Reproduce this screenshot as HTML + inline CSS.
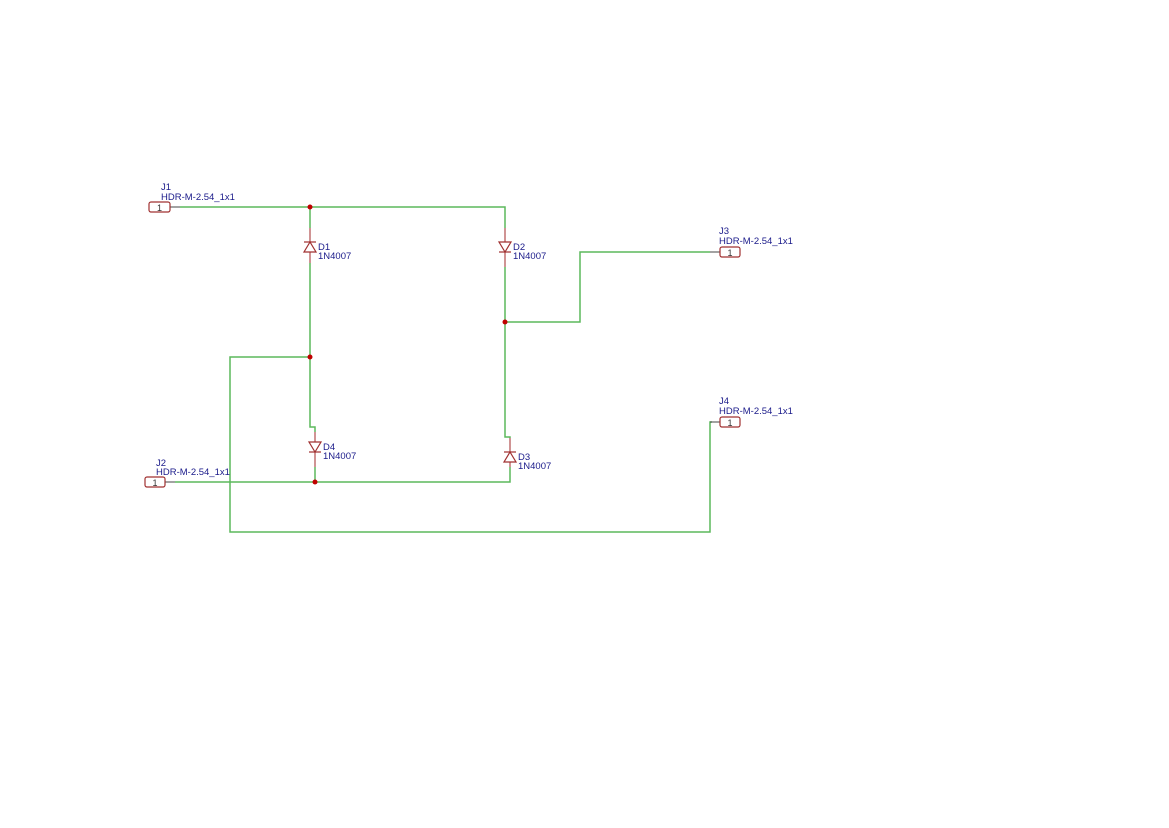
<!DOCTYPE html>
<html><head><style>html,body{margin:0;background:#fff}svg{display:block}</style></head>
<body>
<svg width="1169" height="828" viewBox="0 0 1169 828" xmlns="http://www.w3.org/2000/svg" font-family="Liberation Sans, sans-serif">
<g fill="none" stroke="#5cb85c" stroke-width="1.5">
<polyline points="180,207 505,207 505,228"/>
<polyline points="310,207 310,228"/>
<polyline points="310,263 310,427 315,427 315,432"/>
<polyline points="315,467 315,482"/>
<polyline points="175,482 510,482 510,467"/>
<polyline points="505,267 505,437 510,437 510,438"/>
<polyline points="505,322 580,322 580,252 710,252"/>
<polyline points="310,357 230,357 230,532 710,532 710,422 712,422"/>
</g>
<g stroke="#444" stroke-width="1">
<line x1="170" y1="207" x2="180" y2="207"/>
<line x1="165" y1="482" x2="175" y2="482"/>
<line x1="710" y1="252" x2="720" y2="252"/>
<line x1="710" y1="422" x2="720" y2="422"/>
</g>
<g fill="none" stroke="#c07070" stroke-width="1.5">
<line x1="310" y1="228" x2="310" y2="263"/>
<line x1="505" y1="228" x2="505" y2="267"/>
<line x1="315" y1="432" x2="315" y2="467"/>
<line x1="510" y1="438" x2="510" y2="467"/>
</g>
<g fill="#fff" stroke="#a03030" stroke-width="1.2">
<polygon points="304,252 316,252 310,242"/><line x1="304" y1="242" x2="316" y2="242"/>
<polygon points="499,242 511,242 505,252"/><line x1="499" y1="252" x2="511" y2="252"/>
<polygon points="309,442 321,442 315,452"/><line x1="309" y1="452" x2="321" y2="452"/>
<polygon points="504,462 516,462 510,452"/><line x1="504" y1="452" x2="516" y2="452"/>
<rect x="149" y="202" width="21" height="10" rx="2"/>
<rect x="145" y="477" width="20" height="10" rx="2"/>
<rect x="720" y="247" width="20" height="10" rx="2"/>
<rect x="720" y="417" width="20" height="10" rx="2"/>
</g>
<g fill="#c00000">
<circle cx="310" cy="207" r="2.5"/><circle cx="310" cy="357" r="2.5"/>
<circle cx="315" cy="482" r="2.5"/><circle cx="505" cy="322" r="2.5"/>
</g>
<g fill="#333" font-size="9" text-anchor="middle">
<text x="159.5" y="211">1</text><text x="155" y="486">1</text>
<text x="730" y="256">1</text><text x="730" y="426">1</text>
</g>
<g fill="#1a1a8a" font-size="9.5">
<text x="161" y="190">J1</text><text x="161" y="200">HDR-M-2.54_1x1</text>
<text x="156" y="466">J2</text><text x="156" y="475">HDR-M-2.54_1x1</text>
<text x="719" y="234">J3</text><text x="719" y="244">HDR-M-2.54_1x1</text>
<text x="719" y="404">J4</text><text x="719" y="414">HDR-M-2.54_1x1</text>
<text x="318" y="250">D1</text><text x="318" y="259">1N4007</text>
<text x="513" y="250">D2</text><text x="513" y="259">1N4007</text>
<text x="323" y="450">D4</text><text x="323" y="459">1N4007</text>
<text x="518" y="460">D3</text><text x="518" y="469">1N4007</text>
</g>
</svg>
</body></html>
